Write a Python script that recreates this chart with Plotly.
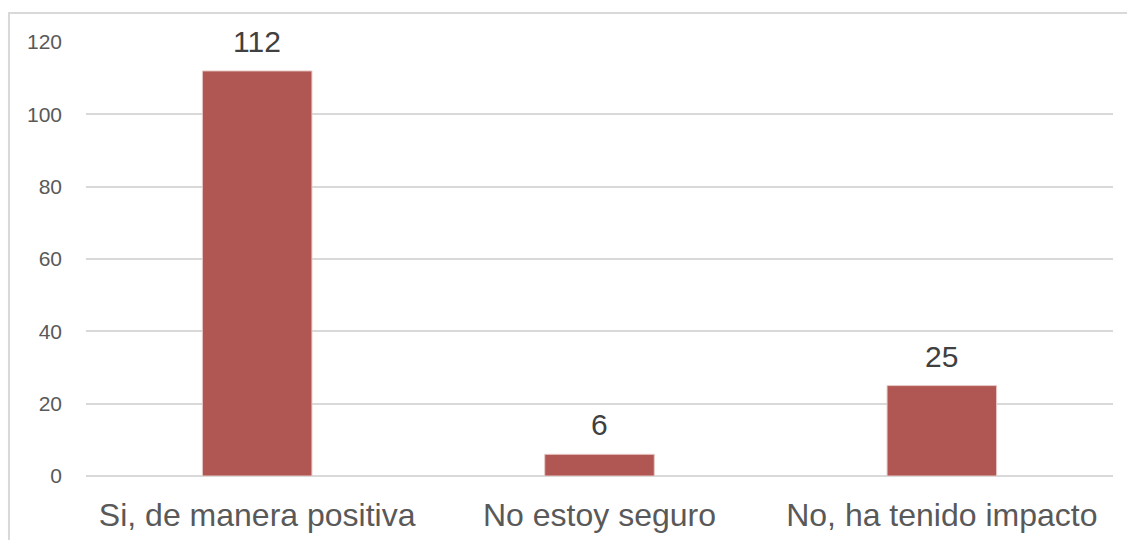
import plotly.graph_objects as go

categories = ["Si, de manera positiva", "No estoy seguro", "No, ha tenido impacto"]
values = [112, 6, 25]
y_ticks = [0, 20, 40, 60, 80, 100, 120]

bar_color = "#B05753"

fig = go.Figure()
fig.add_trace(go.Bar(
    x=categories, y=values, width=0.32,
    marker=dict(color=bar_color, line=dict(color="#E8C9C7", width=1)),
    hoverinfo="skip",
))

for c, v in zip(categories, values):
    fig.add_annotation(x=c, y=v, text=str(v), showarrow=False,
                       yanchor="bottom", yshift=11,
                       font=dict(family="Liberation Sans, Arial", size=30, color="#404040"))

fig.add_shape(type="rect", xref="paper", yref="paper",
              x0=-0.075, x1=1.02, y0=-0.17, y1=1.0668,
              line=dict(color="#D9D9D9", width=2), fillcolor="rgba(0,0,0,0)", layer="below")

fig.update_layout(
    width=1127, height=540,
    margin=dict(l=86, r=14, t=42, b=64),
    paper_bgcolor="white", plot_bgcolor="white",
    showlegend=False,
    bargap=0.68,
    xaxis=dict(showgrid=False, showline=False, ticks="", automargin=False,
               tickfont=dict(family="Liberation Sans, Arial", size=32, color="#595959"),
               ticklabelstandoff=17),
    yaxis=dict(range=[0, 120], tickvals=y_ticks, showgrid=True, automargin=False,
               gridcolor="#D9D9D9", gridwidth=1.5,
               zeroline=True, zerolinecolor="#D9D9D9", zerolinewidth=1.5,
               showline=False, ticks="",
               tickfont=dict(family="Liberation Sans, Arial", size=21, color="#595959"),
               ticklabelstandoff=23),
)

fig.write_html("out.html")
